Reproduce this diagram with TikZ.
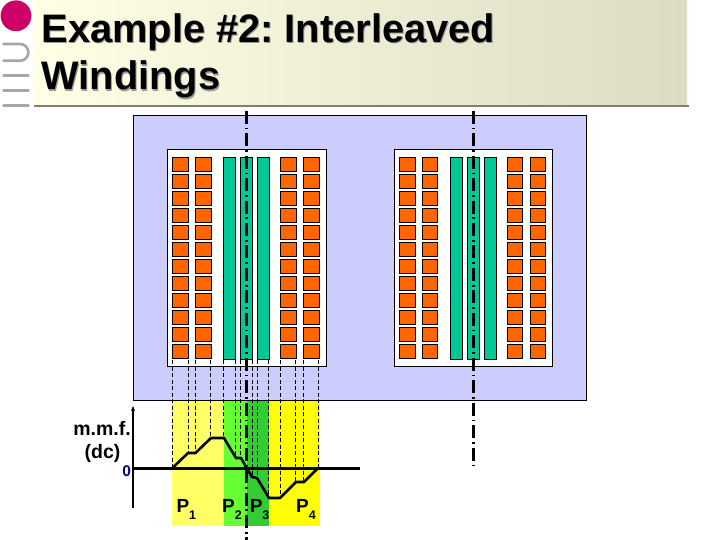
\documentclass[tikz,border=0pt]{standalone}
\usetikzlibrary{arrows.meta}
\usepackage{fontspec}
\setmainfont{Liberation Sans}
\definecolor{core}{HTML}{CCCCFF}
\definecolor{coil}{HTML}{FF6600}
\definecolor{strip}{HTML}{00C896}
\definecolor{yellowA}{HTML}{FFFF66}
\definecolor{yellowB}{HTML}{FFFF00}
\definecolor{greenA}{HTML}{66FF33}
\definecolor{greenB}{HTML}{33CC33}
\definecolor{magentaA}{HTML}{CC0066}
\definecolor{barL}{HTML}{A6A6A6}
\definecolor{navyA}{HTML}{000080}
\definecolor{bandL}{HTML}{FFFFE6}
\definecolor{bandR}{HTML}{DCDCC4}
\definecolor{bandLine}{HTML}{808070}
\tikzset{
  corebox/.style={draw=black,line width=1pt,fill=core},
  windowbox/.style={draw=black,line width=1pt,fill=white},
  coilbox/.style={draw=black,line width=0.9pt,fill=coil},
  stripbox/.style={draw=black,line width=0.9pt,fill=strip},
  drop/.style={line width=0.6pt,dash pattern=on 4pt off 2.5pt},
  centerl/.style={line width=3pt,dash pattern=on 13pt off 3.9pt on 1.7pt off 3.86pt},
  decor/.style={barL,line width=2.6pt,line cap=round},
  titletext/.style={anchor=base west,inner sep=0,font=\fontsize{39.8}{39.8}\selectfont\bfseries\frenchspacing},
  lab/.style={inner sep=0,font=\fontsize{19.5}{19.5}\selectfont\bfseries},
  plab/.style={inner sep=0,anchor=base west,font=\fontsize{19}{19}\selectfont\bfseries},
}
\newcommand{\subdigit}[1]{\raisebox{-6.5pt}{\fontsize{12.5}{12.5}\selectfont #1}}
\newcommand{\windingset}[6]{%
  \draw[windowbox] (#1,150) rectangle (#1+158.5,366);
  \foreach \r in {0,...,11}{
    \foreach \c in {#2,#3,#5,#6}{
      \draw[coilbox] (\c,157.6+17*\r) rectangle (\c+15.5,171.7+17*\r);
    }
  }
  \foreach \c in {0,17,34}{
    \draw[stripbox] (#4+\c,157.4) rectangle (#4+\c+12,359.6);
  }
}
\begin{document}
\begin{tikzpicture}[x=1pt,y=-1pt]
\path[use as bounding box] (0,0) rectangle (720,540);
% title band
\shade[left color=bandL,right color=bandR] (33,0) rectangle (687,105);
\draw[color=bandLine,line width=1.6pt] (34,105.8) -- (689,105.8);
\fill[magentaA] (16,15.8) circle (15.4);
\draw[decor] (3.5,44) -- (20,44) arc[start angle=-90,end angle=90,radius=8.4] -- (3.5,60.8);
\draw[decor] (3.5,75.3) -- (28.5,75.3);
\draw[decor] (3.5,90.3) -- (28.5,90.3);
\draw[decor] (3.5,105.3) -- (28.5,105.3);
\node[titletext,text=black!40] (titleAs) at (42.4,43.6) {Example \#2: Interleaved};
\node[titletext,text=black!40] (titleBs) at (42.4,91.1) {Windings};
\node[titletext] (titleA) at (41.3,42.5) {Example \#2: Interleaved};
\node[titletext] (titleB) at (41.3,90) {Windings};
% core
\draw[corebox] (133,116) rectangle (586,400);
\windingset{167.5}{172.5}{195.5}{223.5}{280.5}{303.5}
\windingset{394.3}{399.5}{422.3}{450}{507.3}{530.3}
% bands
\fill[yellowA] (172,400.5) rectangle (223.7,525.7);
\fill[greenA] (223.7,400.5) rectangle (246.7,525.7);
\fill[greenB] (246.7,400.5) rectangle (268.7,525.7);
\fill[yellowB] (268.7,400.5) rectangle (319.7,525.7);
% drop lines
\foreach \x/\y in {172.3/468,188.3/453,195.7/453,210.3/438,223.7/438,235.7/458,240.3/458,252.3/477,257.3/478,268.7/498,280.3/498,295.3/482,303.3/482,318.3/468}{
  \draw[drop] (\x,360) -- (\x,\y);
}
% axes
\draw[line width=1.3pt,-{Stealth[length=5pt,width=4pt]}] (133,508) -- (133,406);
\draw[line width=2.6pt] (133,468.3) -- (360,468.3);
% mmf curve
\draw[line width=2.6pt,line join=round] (172.5,468) -- (188,453) -- (195.5,453) -- (211,438) -- (224,438) -- (236,458) -- (241,458) -- (246.7,468) -- (252,477) -- (257,478) -- (269,498) -- (280,498) -- (296,482) -- (304,482) -- (318,468);
% center lines
\draw[centerl] (246.7,110.7) -- (246.7,540);
\draw[centerl] (473.5,110.7) -- (473.5,467);
% labels
\node[lab,anchor=base] (mmf) at (102,435) {m.m.f.};
\node[lab,anchor=base] (dc) at (102.5,458) {(dc)};
\node[inner sep=0,anchor=base,text=navyA,font=\fontsize{15.5}{15.5}\selectfont\bfseries] (zero) at (126.7,476) {0};
\node[plab] (p1) at (176.3,512.5) {P\subdigit{1}};
\node[plab] (p2) at (222,512.5) {P\subdigit{2}};
\node[plab] (p3) at (249.6,512.5) {P\subdigit{3}};
\node[plab] (p4) at (296,512.5) {P\subdigit{4}};
\end{tikzpicture}
\end{document}
